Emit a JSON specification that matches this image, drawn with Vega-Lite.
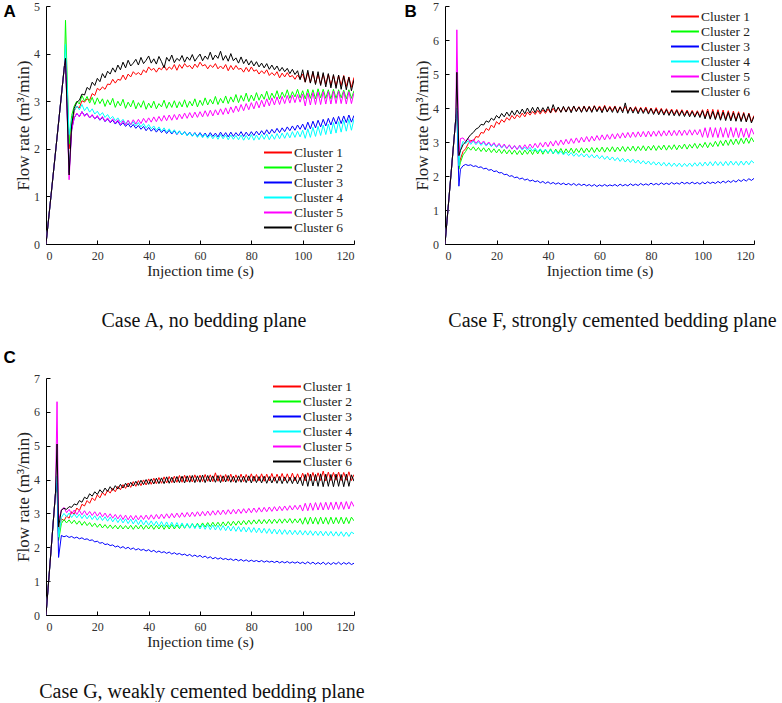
{
"$schema":"https://vega.github.io/schema/vega-lite/v6.json",
"background":"white",
"padding":{"left":3,"top":0,"right":0,"bottom":0},
"config":{
 "view":{"stroke":null},
 "axis":{"grid":false,"domainColor":"#000","domainWidth":1,"tickColor":"#000","tickSize":-4,"labelPadding":10.5,"labelFont":"Liberation Serif","labelFontSize":12,"labelColor":"#333","titleFont":"Liberation Serif","titleFontWeight":"normal","titleColor":"#222"},
 "axisX":{"titlePadding":2,"titleFontSize":15.5},
 "axisY":{"titlePadding":1,"titleFontSize":17},
 "legend":{"symbolType":"M-1,0H3.3","symbolStrokeWidth":2,"symbolSize":169,"labelFont":"Liberation Serif","labelFontSize":13.5,"labelColor":"#222","rowPadding":1,"padding":0,"labelOffset":16}
},
"datasets":{
"A":[{"t":[0,7.2,7.6,9,10,11,12,13,14,15,16,17,18,19,20,21,22,23,24,25,26,27,28,29,30,31,32,33,34,35,36,37,38,39,40,41,42,43,44,45,46,47,48,49,50,51,52,53,54,55,56,57,58,59,60,61,62,63,64,65,66,67,68,69,70,71,72,73,74,75,76,77,78,79,80,81,82,83,84,85,86,87,88,89,90,91,92,93,94,95,96,97,98,99,100,101,102,103,104,105,106,107,108,109,110,111,112,113,114,115,116,117,118,119,120],
"Cluster 1":[0,3.75,3.9,2.0,2.4,2.8,2.89,2.86,3.01,2.98,3.05,3.02,3.16,3.12,3.27,3.23,3.30,3.25,3.36,3.35,3.46,3.38,3.46,3.44,3.55,3.45,3.57,3.51,3.62,3.56,3.60,3.55,3.66,3.60,3.72,3.65,3.69,3.61,3.70,3.66,3.75,3.65,3.72,3.67,3.77,3.65,3.77,3.69,3.79,3.72,3.75,3.68,3.78,3.71,3.82,3.74,3.77,3.68,3.76,3.71,3.79,3.68,3.74,3.68,3.77,3.64,3.75,3.66,3.75,3.67,3.69,3.61,3.71,3.62,3.72,3.63,3.66,3.57,3.64,3.58,3.66,3.54,3.60,3.54,3.62,3.49,3.59,3.51,3.60,3.51,3.54,3.46,3.55,3.47,3.57,3.40,3.60,3.39,3.60,3.37,3.57,3.35,3.57,3.36,3.57,3.34,3.54,3.32,3.54,3.33,3.54,3.31,3.51,3.29,3.50],
"Cluster 2":[0,3.75,4.7,2.1,2.7,2.9,3.00,2.94,3.12,3.00,3.10,2.96,3.08,2.93,3.07,2.95,3.05,2.89,3.03,2.92,3.06,2.87,3.00,2.90,3.04,2.85,2.98,2.88,3.02,2.84,2.97,2.87,3.01,2.83,2.96,2.86,3.00,2.84,2.95,2.88,3.02,2.85,2.98,2.87,3.01,2.86,2.99,2.88,3.03,2.87,3.00,2.90,3.05,2.88,3.02,2.91,3.07,2.92,3.04,2.94,3.10,2.93,3.06,2.96,3.11,2.95,3.09,2.98,3.14,2.97,3.12,3.00,3.17,2.99,3.13,3.01,3.18,3.02,3.15,3.04,3.21,3.03,3.17,3.06,3.22,3.05,3.19,3.08,3.24,3.06,3.20,3.09,3.25,3.07,3.22,3.05,3.25,3.06,3.24,3.05,3.26,3.07,3.25,3.06,3.24,3.05,3.25,3.06,3.24,3.07,3.23,3.05,3.24,3.06,3.22],
"Cluster 3":[0,3.75,3.9,1.5,2.4,2.65,2.74,2.68,2.78,2.70,2.74,2.65,2.71,2.63,2.68,2.60,2.66,2.57,2.63,2.55,2.60,2.52,2.58,2.49,2.55,2.47,2.53,2.45,2.51,2.43,2.49,2.41,2.47,2.38,2.45,2.37,2.43,2.35,2.42,2.34,2.40,2.32,2.39,2.31,2.38,2.30,2.37,2.29,2.36,2.28,2.35,2.27,2.34,2.26,2.34,2.26,2.33,2.25,2.34,2.26,2.33,2.25,2.35,2.26,2.34,2.25,2.35,2.26,2.34,2.27,2.36,2.26,2.35,2.27,2.36,2.28,2.37,2.29,2.38,2.30,2.40,2.31,2.41,2.33,2.43,2.34,2.44,2.36,2.46,2.38,2.48,2.39,2.50,2.41,2.52,2.40,2.56,2.42,2.58,2.44,2.60,2.46,2.62,2.48,2.64,2.50,2.66,2.52,2.68,2.53,2.69,2.55,2.71,2.56,2.70],
"Cluster 4":[0,3.75,4.2,2.3,2.6,2.8,2.90,2.82,2.93,2.80,2.88,2.77,2.84,2.73,2.79,2.70,2.76,2.66,2.72,2.63,2.68,2.59,2.65,2.56,2.62,2.53,2.59,2.50,2.57,2.48,2.55,2.46,2.53,2.44,2.51,2.42,2.48,2.39,2.46,2.37,2.44,2.35,2.42,2.33,2.40,2.31,2.38,2.29,2.36,2.27,2.34,2.26,2.33,2.24,2.32,2.23,2.31,2.22,2.30,2.21,2.29,2.20,2.30,2.21,2.29,2.19,2.29,2.20,2.28,2.19,2.29,2.18,2.28,2.19,2.30,2.18,2.29,2.19,2.30,2.20,2.31,2.19,2.30,2.20,2.32,2.21,2.33,2.22,2.34,2.23,2.36,2.24,2.37,2.25,2.39,2.22,2.42,2.24,2.45,2.26,2.47,2.28,2.50,2.30,2.52,2.31,2.55,2.33,2.57,2.35,2.60,2.37,2.62,2.39,2.63],
"Cluster 5":[0,3.75,3.9,1.35,2.4,2.65,2.75,2.67,2.78,2.68,2.74,2.65,2.72,2.63,2.70,2.61,2.68,2.58,2.65,2.56,2.63,2.54,2.61,2.51,2.59,2.50,2.60,2.51,2.61,2.52,2.62,2.53,2.64,2.55,2.65,2.56,2.67,2.57,2.68,2.58,2.70,2.59,2.71,2.60,2.72,2.61,2.73,2.63,2.75,2.64,2.76,2.65,2.77,2.66,2.78,2.67,2.80,2.68,2.81,2.69,2.82,2.71,2.84,2.72,2.86,2.73,2.88,2.76,2.90,2.78,2.93,2.80,2.95,2.82,2.97,2.84,3.00,2.86,3.02,2.88,3.05,2.90,3.07,2.92,3.09,2.93,3.10,2.95,3.12,2.96,3.13,2.97,3.14,2.98,3.15,2.90,3.17,2.92,3.18,2.93,3.19,2.93,3.20,2.94,3.20,2.94,3.21,2.95,3.21,2.95,3.20,2.94,3.20,2.95,3.18],
"Cluster 6":[0,3.75,3.9,1.45,2.5,2.85,2.98,3.02,3.15,3.13,3.29,3.24,3.40,3.33,3.48,3.41,3.58,3.49,3.63,3.57,3.70,3.61,3.76,3.66,3.82,3.70,3.86,3.74,3.80,3.88,3.76,3.92,3.79,3.86,3.95,3.80,3.89,3.78,3.94,3.83,3.70,3.92,3.84,3.97,3.81,3.90,3.85,3.96,3.82,3.93,3.86,3.98,3.84,3.92,3.99,3.85,3.95,3.88,4.03,3.87,3.97,3.90,4.05,3.86,3.96,3.84,4.00,3.85,3.91,3.80,3.93,3.79,3.88,3.76,3.85,3.74,3.83,3.72,3.80,3.70,3.79,3.67,3.76,3.66,3.74,3.63,3.71,3.62,3.69,3.58,3.67,3.56,3.64,3.45,3.66,3.40,3.65,3.38,3.63,3.35,3.62,3.33,3.60,3.30,3.58,3.28,3.56,3.27,3.55,3.25,3.53,3.24,3.50,3.22,3.45]}],
"B":[{"t":[0,4.2,4.6,5.4,6,7,8,9,10,11,12,13,14,15,16,17,18,19,20,21,22,23,24,25,26,27,28,29,30,31,32,33,34,35,36,37,38,39,40,41,42,43,44,45,46,47,48,49,50,51,52,53,54,55,56,57,58,59,60,61,62,63,64,65,66,67,68,69,70,71,72,73,74,75,76,77,78,79,80,81,82,83,84,85,86,87,88,89,90,91,92,93,94,95,96,97,98,99,100,101,102,103,104,105,106,107,108,109,110,111,112,113,114,115,116,117,118,119,120],
"Cluster 1":[0,3.7,3.9,2.3,2.50,2.72,2.80,2.95,3.05,3.02,3.16,3.14,3.28,3.26,3.40,3.34,3.50,3.42,3.60,3.52,3.66,3.58,3.72,3.64,3.78,3.68,3.80,3.72,3.85,3.74,3.88,3.79,3.90,3.81,3.93,3.82,3.95,3.84,3.97,3.85,3.99,3.87,4.01,3.88,4.02,3.89,4.03,3.90,4.05,3.91,4.04,3.89,4.06,3.91,4.05,3.90,4.07,3.92,4.06,3.91,4.08,3.90,4.05,3.92,4.06,3.89,4.04,3.91,4.05,3.88,4.03,3.90,4.04,3.87,4.02,3.88,4.03,3.86,4.00,3.85,4.01,3.84,3.99,3.83,3.98,3.82,3.97,3.81,3.96,3.80,3.95,3.79,3.94,3.78,3.93,3.77,3.92,3.76,3.95,3.72,3.97,3.70,3.96,3.69,3.95,3.68,3.94,3.67,3.92,3.66,3.91,3.64,3.89,3.63,3.87,3.61,3.85,3.60,3.78],
"Cluster 2":[0,3.7,3.9,2.2,2.40,2.62,2.72,2.85,2.76,2.86,2.74,2.84,2.72,2.83,2.71,2.82,2.69,2.80,2.68,2.79,2.66,2.78,2.65,2.77,2.64,2.76,2.63,2.75,2.62,2.76,2.64,2.77,2.63,2.78,2.65,2.79,2.64,2.78,2.66,2.80,2.65,2.79,2.67,2.81,2.66,2.80,2.68,2.82,2.67,2.81,2.69,2.83,2.68,2.82,2.70,2.84,2.69,2.83,2.71,2.85,2.70,2.84,2.72,2.86,2.71,2.85,2.73,2.87,2.72,2.86,2.74,2.88,2.73,2.87,2.75,2.89,2.74,2.88,2.76,2.90,2.75,2.89,2.77,2.91,2.76,2.90,2.78,2.92,2.77,2.91,2.80,2.94,2.79,2.93,2.82,2.96,2.81,2.95,2.84,2.99,2.83,2.98,2.86,3.02,2.87,3.04,2.89,3.06,2.90,3.08,2.92,3.09,2.93,3.11,2.95,3.12,2.96,3.13,3.00],
"Cluster 3":[0,3.7,3.9,1.7,2.20,2.30,2.34,2.31,2.33,2.28,2.30,2.25,2.27,2.21,2.23,2.17,2.19,2.13,2.15,2.09,2.10,2.04,2.05,1.99,2.01,1.95,1.97,1.91,1.94,1.88,1.91,1.85,1.88,1.83,1.86,1.80,1.84,1.78,1.83,1.77,1.81,1.76,1.80,1.75,1.79,1.74,1.78,1.73,1.78,1.72,1.77,1.72,1.76,1.71,1.75,1.70,1.75,1.69,1.74,1.70,1.75,1.70,1.74,1.71,1.75,1.70,1.76,1.71,1.75,1.71,1.77,1.72,1.76,1.72,1.78,1.73,1.77,1.73,1.79,1.74,1.78,1.74,1.80,1.75,1.79,1.75,1.81,1.76,1.80,1.76,1.82,1.77,1.81,1.77,1.82,1.77,1.81,1.76,1.82,1.77,1.83,1.78,1.82,1.78,1.84,1.79,1.85,1.80,1.86,1.81,1.87,1.82,1.89,1.84,1.90,1.85,1.92,1.87,1.93],
"Cluster 4":[0,3.7,4.0,2.3,2.80,3.02,2.95,3.04,2.93,3.03,2.92,3.01,2.90,2.99,2.88,2.97,2.86,2.95,2.84,2.93,2.82,2.91,2.81,2.90,2.79,2.88,2.78,2.87,2.76,2.85,2.75,2.84,2.73,2.82,2.71,2.80,2.70,2.79,2.68,2.77,2.66,2.75,2.64,2.73,2.62,2.71,2.60,2.69,2.58,2.67,2.57,2.66,2.56,2.65,2.54,2.63,2.53,2.62,2.51,2.60,2.49,2.58,2.47,2.56,2.45,2.54,2.43,2.52,2.41,2.50,2.40,2.49,2.38,2.47,2.36,2.45,2.35,2.44,2.33,2.42,2.32,2.41,2.30,2.40,2.29,2.39,2.28,2.38,2.28,2.38,2.27,2.37,2.28,2.38,2.28,2.39,2.29,2.40,2.29,2.41,2.30,2.42,2.30,2.43,2.31,2.42,2.30,2.43,2.31,2.44,2.32,2.43,2.31,2.44,2.32,2.44,2.33,2.45,2.38],
"Cluster 5":[0,3.7,6.3,2.6,3.10,3.12,3.02,3.10,2.98,3.08,2.96,3.05,2.94,3.03,2.91,3.00,2.89,2.98,2.86,2.96,2.84,2.94,2.81,2.92,2.79,2.90,2.78,2.91,2.79,2.92,2.80,2.94,2.82,2.96,2.83,2.98,2.85,3.00,2.86,3.02,2.88,3.04,2.90,3.06,2.92,3.08,2.94,3.10,2.96,3.12,2.98,3.14,3.00,3.16,3.01,3.17,3.03,3.19,3.05,3.21,3.06,3.22,3.08,3.24,3.09,3.25,3.11,3.27,3.12,3.28,3.13,3.29,3.14,3.30,3.15,3.31,3.15,3.32,3.16,3.32,3.17,3.33,3.17,3.33,3.18,3.34,3.18,3.34,3.19,3.35,3.19,3.35,3.20,3.36,3.20,3.36,3.21,3.37,3.14,3.42,3.13,3.43,3.14,3.42,3.13,3.43,3.14,3.42,3.13,3.43,3.14,3.42,3.13,3.41,3.14,3.40,3.13,3.40,3.22],
"Cluster 6":[0,3.7,5.05,2.6,2.75,2.92,3.00,3.12,3.22,3.28,3.38,3.42,3.52,3.50,3.62,3.58,3.70,3.64,3.78,3.70,3.84,3.74,3.88,3.76,3.92,3.79,3.94,3.82,3.97,3.83,4.00,3.85,4.02,3.86,4.03,3.87,4.01,3.88,4.04,3.86,4.10,3.89,4.03,3.87,4.05,3.88,4.04,3.86,4.06,3.89,4.03,3.87,4.05,3.88,4.04,3.87,4.06,3.89,4.03,3.86,4.05,3.88,4.02,3.87,4.04,3.85,4.03,3.86,4.15,3.84,4.02,3.85,4.01,3.83,4.00,3.84,3.99,3.82,3.98,3.81,3.97,3.80,3.96,3.79,3.95,3.78,3.94,3.77,3.93,3.76,3.92,3.75,3.91,3.74,3.90,3.73,3.89,3.72,3.92,3.68,3.91,3.67,3.90,3.66,3.89,3.64,3.88,3.63,3.87,3.62,3.86,3.61,3.85,3.60,3.84,3.59,3.83,3.56,3.75]}],
"C":[{"t":[0,3.7,4.3,4.9,6,7,8,9,10,11,12,13,14,15,16,17,18,19,20,21,22,23,24,25,26,27,28,29,30,31,32,33,34,35,36,37,38,39,40,41,42,43,44,45,46,47,48,49,50,51,52,53,54,55,56,57,58,59,60,61,62,63,64,65,66,67,68,69,70,71,72,73,74,75,76,77,78,79,80,81,82,83,84,85,86,87,88,89,90,91,92,93,94,95,96,97,98,99,100,101,102,103,104,105,106,107,108,109,110,111,112,113,114,115,116,117,118,119,120],
"Cluster 1":[0,3.6,3.9,2.4,2.85,2.78,2.92,2.86,3.05,2.98,3.16,3.08,3.27,3.22,3.38,3.30,3.46,3.38,3.55,3.46,3.62,3.53,3.69,3.60,3.74,3.64,3.80,3.70,3.85,3.74,3.90,3.77,3.94,3.80,3.97,3.82,3.99,3.84,4.02,3.86,4.04,3.88,4.06,3.89,4.08,3.90,4.09,3.91,4.10,3.92,4.12,3.92,4.13,3.93,4.12,3.93,4.14,3.94,4.13,3.94,4.15,3.95,4.14,3.94,4.20,3.95,4.14,3.94,4.15,3.95,4.16,3.94,4.14,3.95,4.16,3.94,4.15,3.96,4.17,3.95,4.15,3.96,4.17,3.95,4.16,3.96,4.18,3.95,4.16,3.97,4.18,3.96,4.17,3.97,4.19,3.96,4.17,3.97,4.19,3.96,4.20,3.97,4.21,3.96,4.20,3.97,4.25,3.96,4.22,3.97,4.21,3.98,4.22,3.97,4.21,3.98,4.23,3.97,4.15],
"Cluster 2":[0,3.6,3.9,2.2,2.70,2.82,2.72,2.81,2.70,2.80,2.68,2.78,2.65,2.76,2.64,2.73,2.61,2.71,2.59,2.69,2.57,2.67,2.56,2.66,2.55,2.65,2.54,2.65,2.54,2.64,2.54,2.65,2.53,2.65,2.54,2.66,2.53,2.65,2.54,2.66,2.53,2.65,2.54,2.66,2.53,2.66,2.54,2.67,2.54,2.66,2.55,2.68,2.56,2.69,2.57,2.70,2.58,2.71,2.59,2.72,2.60,2.73,2.61,2.74,2.62,2.74,2.62,2.75,2.63,2.76,2.64,2.77,2.65,2.78,2.66,2.79,2.67,2.80,2.68,2.81,2.69,2.82,2.69,2.82,2.70,2.83,2.70,2.83,2.71,2.84,2.71,2.84,2.72,2.85,2.71,2.84,2.72,2.85,2.68,2.88,2.68,2.89,2.69,2.88,2.68,2.89,2.69,2.88,2.68,2.89,2.69,2.88,2.70,2.89,2.69,2.88,2.70,2.89,2.78],
"Cluster 3":[0,3.6,3.9,1.7,2.35,2.31,2.34,2.29,2.32,2.27,2.30,2.25,2.28,2.23,2.25,2.20,2.22,2.16,2.18,2.12,2.14,2.08,2.10,2.05,2.07,2.01,2.04,1.98,2.02,1.96,2.00,1.94,1.98,1.92,1.96,1.91,1.94,1.89,1.93,1.87,1.91,1.85,1.89,1.84,1.87,1.82,1.86,1.80,1.84,1.79,1.82,1.77,1.80,1.75,1.79,1.73,1.77,1.72,1.76,1.70,1.74,1.68,1.72,1.66,1.70,1.65,1.69,1.64,1.67,1.63,1.66,1.61,1.65,1.60,1.64,1.59,1.63,1.58,1.62,1.58,1.61,1.57,1.61,1.56,1.60,1.56,1.59,1.55,1.59,1.54,1.58,1.54,1.58,1.53,1.57,1.53,1.57,1.52,1.56,1.51,1.57,1.51,1.56,1.50,1.55,1.50,1.56,1.49,1.55,1.49,1.55,1.50,1.56,1.49,1.55,1.50,1.55,1.49,1.53],
"Cluster 4":[0,3.6,4.1,2.3,2.88,3.00,2.90,3.01,2.88,2.99,2.87,2.98,2.85,2.96,2.84,2.95,2.82,2.93,2.80,2.92,2.79,2.90,2.77,2.89,2.75,2.87,2.73,2.85,2.72,2.84,2.70,2.83,2.69,2.82,2.67,2.81,2.66,2.79,2.65,2.78,2.64,2.77,2.62,2.76,2.61,2.75,2.60,2.74,2.59,2.73,2.58,2.72,2.57,2.71,2.56,2.70,2.55,2.69,2.54,2.68,2.53,2.67,2.52,2.66,2.51,2.65,2.50,2.64,2.49,2.63,2.48,2.62,2.47,2.61,2.46,2.60,2.45,2.59,2.44,2.58,2.43,2.57,2.42,2.56,2.41,2.55,2.40,2.54,2.39,2.53,2.38,2.52,2.38,2.51,2.37,2.50,2.37,2.50,2.36,2.49,2.36,2.49,2.35,2.48,2.35,2.48,2.34,2.47,2.34,2.47,2.33,2.46,2.33,2.46,2.32,2.45,2.32,2.45,2.40],
"Cluster 5":[0,3.6,6.3,2.8,3.10,3.18,3.02,3.12,2.98,3.10,2.97,3.09,2.96,3.08,2.95,3.06,2.94,3.05,2.92,3.03,2.90,3.01,2.88,2.99,2.86,2.97,2.84,2.96,2.82,2.95,2.81,2.94,2.81,2.94,2.81,2.94,2.82,2.95,2.82,2.96,2.83,2.97,2.84,2.98,2.85,2.99,2.86,3.00,2.87,3.01,2.88,3.02,2.89,3.03,2.90,3.04,2.91,3.05,2.92,3.06,2.93,3.07,2.94,3.08,2.95,3.09,2.96,3.10,2.97,3.11,2.98,3.12,2.99,3.13,3.00,3.14,3.01,3.15,3.02,3.16,3.03,3.17,3.04,3.18,3.05,3.19,3.06,3.20,3.07,3.21,3.08,3.22,3.09,3.23,3.10,3.24,3.11,3.25,3.07,3.30,3.08,3.31,3.09,3.32,3.10,3.32,3.10,3.33,3.11,3.33,3.11,3.34,3.12,3.34,3.12,3.35,3.13,3.35,3.20],
"Cluster 6":[0,3.6,5.05,2.6,3.10,3.15,3.12,3.20,3.18,3.28,3.25,3.38,3.33,3.48,3.43,3.58,3.51,3.64,3.56,3.70,3.61,3.75,3.65,3.79,3.68,3.82,3.72,3.86,3.75,3.89,3.78,3.92,3.81,3.95,3.83,3.98,3.85,4.00,3.86,4.02,3.87,4.04,3.88,4.05,3.88,4.08,3.89,4.07,3.90,4.09,3.91,4.10,3.90,4.11,3.92,4.12,3.91,4.11,3.92,4.13,3.91,4.12,3.93,4.11,3.92,4.12,3.91,4.11,3.93,4.12,3.92,4.10,3.91,4.11,3.92,4.10,3.91,4.11,3.90,4.10,3.91,4.09,3.90,4.10,3.89,4.09,3.90,4.08,3.89,4.09,3.88,4.08,3.89,4.07,3.88,4.08,3.87,4.07,3.82,4.15,3.80,4.16,3.81,4.15,3.80,4.17,3.79,4.16,3.80,4.15,3.79,4.16,3.80,4.15,3.79,4.16,3.80,4.14,3.95]}]
},
"vconcat":[
 {"hconcat":[
  {"title":{"text":"A","anchor":"start","orient":"top","offset":-21,"dx":-11,"font":"Liberation Sans","fontSize":17,"fontWeight":"bold","color":"#000"},
   "vconcat":[{
    "width":308,"height":238,
    "data":{"name":"A"},
    "transform":[{"flatten":["t","Cluster 1","Cluster 2","Cluster 3","Cluster 4","Cluster 5","Cluster 6"]},{"fold":["Cluster 1","Cluster 2","Cluster 3","Cluster 4","Cluster 5","Cluster 6"],"as":["series","v"]}],
    "mark":{"type":"line","strokeWidth":1,"clip":true},
    "encoding":{
     "x":{"field":"t","type":"quantitative","scale":{"domain":[0,120],"nice":false},"axis":{"values":[0,20,40,60,80,100,120],"title":"Injection time (s)"}},
     "y":{"field":"v","type":"quantitative","scale":{"domain":[0,5],"nice":false},"axis":{"values":[0,1,2,3,4,5],"title":"Flow rate (m³/min)"}},
     "color":{"field":"series","type":"nominal","scale":{"domain":["Cluster 1","Cluster 2","Cluster 3","Cluster 4","Cluster 5","Cluster 6"],"range":["#ff0000","#00ff00","#0000ff","#00ffff","#ff00ff","#000000"]},"legend":{"title":null,"orient":"bottom-right","offset":10}}
    },
    "title":{"text":"Case A, no bedding plane","orient":"bottom","anchor":"middle","frame":"group","offset":32,"dx":4,"font":"Liberation Serif","fontSize":20,"fontWeight":"normal","color":"#111"}
   }],
   "resolve":{"scale":{"color":"independent"},"legend":{"color":"independent"}}
  },
  {"title":{"text":"B","anchor":"start","orient":"top","offset":-21,"dx":-9,"font":"Liberation Sans","fontSize":17,"fontWeight":"bold","color":"#000"},
   "vconcat":[{
    "width":309,"height":238,
    "data":{"name":"B"},
    "transform":[{"flatten":["t","Cluster 1","Cluster 2","Cluster 3","Cluster 4","Cluster 5","Cluster 6"]},{"fold":["Cluster 1","Cluster 2","Cluster 3","Cluster 4","Cluster 5","Cluster 6"],"as":["series","v"]}],
    "mark":{"type":"line","strokeWidth":1,"clip":true},
    "encoding":{
     "x":{"field":"t","type":"quantitative","scale":{"domain":[0,120],"nice":false},"axis":{"values":[0,20,40,60,80,100,120],"title":"Injection time (s)"}},
     "y":{"field":"v","type":"quantitative","scale":{"domain":[0,7],"nice":false},"axis":{"values":[0,1,2,3,4,5,6,7],"title":"Flow rate (m³/min)"}},
     "color":{"field":"series","type":"nominal","scale":{"domain":["Cluster 1","Cluster 2","Cluster 3","Cluster 4","Cluster 5","Cluster 6"],"range":["#ff0000","#00ff00","#0000ff","#00ffff","#ff00ff","#000000"]},"legend":{"title":null,"orient":"top-right","offset":3}}
    },
    "title":{"text":"Case F, strongly cemented bedding plane","orient":"bottom","anchor":"middle","frame":"group","offset":32,"dx":13,"font":"Liberation Serif","fontSize":20,"fontWeight":"normal","color":"#111"}
   }],
   "resolve":{"scale":{"color":"independent"},"legend":{"color":"independent"}}
  }
 ],"spacing":49,"resolve":{"scale":{"color":"independent"},"legend":{"color":"independent"}}},
 {"hconcat":[
  {"title":{"text":"C","anchor":"start","orient":"top","offset":5,"dx":-11,"font":"Liberation Sans","fontSize":17,"fontWeight":"bold","color":"#000"},
   "vconcat":[{
    "width":308,"height":237,
    "data":{"name":"C"},
    "transform":[{"flatten":["t","Cluster 1","Cluster 2","Cluster 3","Cluster 4","Cluster 5","Cluster 6"]},{"fold":["Cluster 1","Cluster 2","Cluster 3","Cluster 4","Cluster 5","Cluster 6"],"as":["series","v"]}],
    "mark":{"type":"line","strokeWidth":1,"clip":true},
    "encoding":{
     "x":{"field":"t","type":"quantitative","scale":{"domain":[0,120],"nice":false},"axis":{"values":[0,20,40,60,80,100,120],"title":"Injection time (s)"}},
     "y":{"field":"v","type":"quantitative","scale":{"domain":[0,7],"nice":false},"axis":{"values":[0,1,2,3,4,5,6,7],"title":"Flow rate (m³/min)"}},
     "color":{"field":"series","type":"nominal","scale":{"domain":["Cluster 1","Cluster 2","Cluster 3","Cluster 4","Cluster 5","Cluster 6"],"range":["#ff0000","#00ff00","#0000ff","#00ffff","#ff00ff","#000000"]},"legend":{"title":null,"orient":"top-right","offset":1}}
    },
    "title":{"text":"Case G, weakly cemented bedding plane","orient":"bottom","anchor":"middle","frame":"group","offset":32,"dx":2,"font":"Liberation Serif","fontSize":20,"fontWeight":"normal","color":"#111"}
   }],
   "resolve":{"scale":{"color":"independent"},"legend":{"color":"independent"}}
  }
 ],"resolve":{"scale":{"color":"independent"},"legend":{"color":"independent"}}}
],
"spacing":18,
"resolve":{"scale":{"color":"independent"},"legend":{"color":"independent"}}
}
